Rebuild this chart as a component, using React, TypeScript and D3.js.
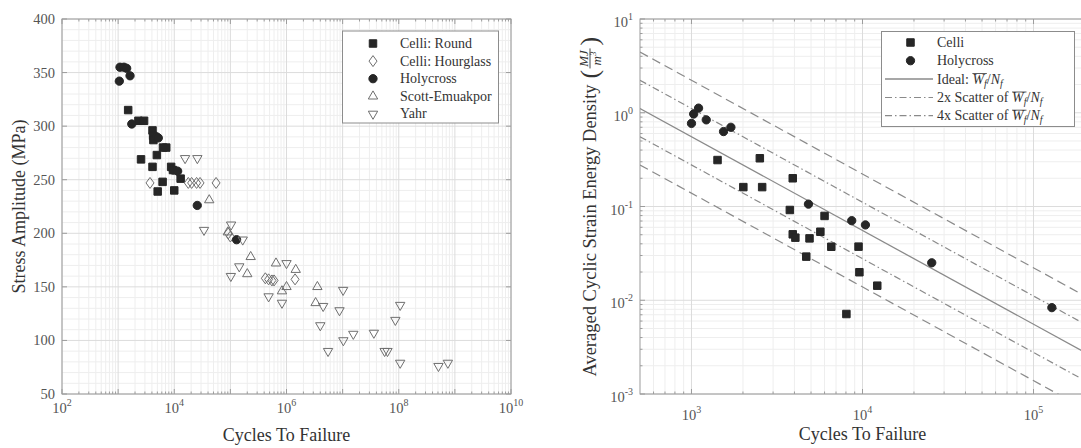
import React, { useEffect, useRef } from 'react';
import * as d3 from 'd3';

// left panel: cycles to failure vs stress amplitude (MPa)
const celliRound: [number, number][] = [
  [1510, 315], [2300, 305], [2900, 305], [4100, 296], [4200, 291], [4250, 287],
  [6300, 280], [7200, 280], [4900, 273], [2560, 269], [4100, 262], [8800, 262],
  [9500, 259], [13000, 251], [6200, 248], [5070, 239], [10000, 240],
];
const celliHourglass: [number, number][] = [
  [3700, 247], [17800, 247], [20400, 247], [25000, 247], [28800, 247], [55600, 247],
  [92000, 200], [100000, 197], [420000, 158], [480000, 157], [550000, 156],
  [600000, 156], [1420000, 157],
];
const holycrossS: [number, number][] = [
  [1080, 355], [1270, 355], [1420, 354], [1630, 347], [1050, 342], [1750, 302],
  [4870, 290], [5200, 289], [9600, 259], [11500, 258], [25700, 226], [129000, 194],
];
const scottEmuakpor: [number, number][] = [
  [42000, 231], [90000, 201], [230000, 178], [200000, 162], [650000, 172],
  [1460000, 166], [1000000, 150], [830000, 146], [3550000, 150], [3300000, 135],
];
const yahr: [number, number][] = [
  [15600, 270], [25800, 270], [33900, 203], [103000, 208], [166000, 194], [144000, 169],
  [102000, 160], [1000000, 172], [480000, 141], [830000, 135], [10200000, 147],
  [4500000, 132], [8800000, 128], [4000000, 114], [106000000, 133], [87000000, 119],
  [15500000, 106], [36000000, 107], [10300000, 100], [5500000, 90], [56000000, 90],
  [63000000, 90], [106000000, 79], [510000000, 76], [750000000, 79],
];

// right panel: cycles to failure vs averaged cyclic strain energy density (MJ/m^3)
const celliW: [number, number][] = [
  [1420, 0.313], [2510, 0.327], [2010, 0.161], [2590, 0.161], [3910, 0.2], [3760, 0.0918],
  [6000, 0.0793], [3910, 0.0505], [4050, 0.0465], [4900, 0.0457], [5670, 0.0538],
  [6570, 0.0372], [4690, 0.0292], [8050, 0.00713], [9480, 0.0373], [9590, 0.0199],
  [12200, 0.0143],
];
const holycrossW: [number, number][] = [
  [1000, 0.77], [1030, 0.97], [1100, 1.12], [1220, 0.84], [1540, 0.63], [1700, 0.7],
  [4830, 0.106], [8650, 0.0706], [10400, 0.0636], [25400, 0.0251], [128000, 0.00834],
];
const idealWf = 555;
const scatterFactors = [2, 4];

const leftYTicks = [50, 100, 150, 200, 250, 300, 350, 400];
const leftXExps = [2, 3, 4, 5, 6, 7, 8, 9, 10];
const rightXExps = [3, 4, 5];
const rightYExps = [-3, -2, -1, 0, 1];
const leftLegend = ['Celli: Round', 'Celli: Hourglass', 'Holycross', 'Scott-Emuakpor', 'Yahr'];

const FONT = "'Liberation Serif', 'Times New Roman', Times, 'DejaVu Serif', serif";
const GRID = '#dcdcdc';
const GRID_MINOR = '#eeeeee';
const AXIS = '#9c9c9c';
const TXT = '#555';
const DARK = '#262626';
const OPEN = '#6e6e6e';
const LINE = '#8a8a8a';

const shapes: Record<string, string> = {
  square: d3.symbol(d3.symbolSquare, 56)() as string,
  circle: d3.symbol(d3.symbolCircle, 54)() as string,
  up: d3.symbol(d3.symbolTriangle, 38)() as string,
  diamond: 'M0,-5.5L4,0L0,5.5L-4,0Z',
};

function marker(g: any, kind: string, x: number, y: number) {
  const filled = kind === 'square' || kind === 'circle';
  return g.append('path')
    .attr('d', shapes[kind === 'down' ? 'up' : kind])
    .attr('transform', `translate(${x},${y})${kind === 'down' ? ' rotate(180)' : ''}`)
    .attr('fill', filled ? DARK : 'none')
    .attr('stroke', filled ? DARK : OPEN)
    .attr('stroke-width', 1);
}

function pow10(g: any, x: number, y: number, e: number, anchor: string) {
  const t = g.append('text')
    .attr('x', x).attr('y', y)
    .attr('text-anchor', anchor)
    .style('font-size', '14.5px')
    .attr('fill', TXT);
  t.append('tspan').text('10');
  t.append('tspan').attr('dy', -7).style('font-size', '10px').text(e);
}

// text like "prefix W̄f/Nf" with overline drawn over W_f
function ratioText(g: any, x: number, y: number, prefix: string) {
  const t = g.append('text').attr('x', x).attr('y', y).style('font-size', '14px').attr('fill', '#333');
  t.append('tspan').text(prefix);
  t.append('tspan').style('font-style', 'italic').text('W');
  t.append('tspan').style('font-style', 'italic').style('font-size', '10px').attr('dy', 3).text('f');
  t.append('tspan').attr('dy', -3).text('/');
  t.append('tspan').style('font-style', 'italic').text('N');
  t.append('tspan').style('font-style', 'italic').style('font-size', '10px').attr('dy', 3).text('f');
  const node = t.node() as SVGTextElement;
  const a = node.getExtentOfChar(prefix.length);
  const b = node.getExtentOfChar(prefix.length + 1);
  g.append('line')
    .attr('x1', a.x).attr('x2', b.x + b.width)
    .attr('y1', a.y + 2).attr('y2', a.y + 2)
    .attr('stroke', '#333').attr('stroke-width', 0.8);
}

function drawLeft(svg: any) {
  const x = d3.scaleLog().domain([1e2, 1e10]).range([62, 511]);
  const y = d3.scaleLinear().domain([50, 400]).range([394, 19]);
  const [x0, x1] = x.range();
  const [y0, y1] = y.range();
  const g = svg.append('g');

  // grid
  const minorX: number[] = [];
  leftXExps.slice(0, -1).forEach(e => { for (let k = 2; k < 10; k++) minorX.push(k * 10 ** e); });
  g.selectAll('.mx').data(minorX).join('line')
    .attr('x1', (d: number) => x(d)).attr('x2', (d: number) => x(d)).attr('y1', y0).attr('y2', y1)
    .attr('stroke', GRID_MINOR);
  g.selectAll('.my').data(d3.range(60, 400, 10).filter(v => v % 50 !== 0)).join('line')
    .attr('x1', x0).attr('x2', x1).attr('y1', (d: number) => y(d)).attr('y2', (d: number) => y(d))
    .attr('stroke', GRID_MINOR);
  g.selectAll('.gx').data(leftXExps).join('line')
    .attr('x1', (e: number) => x(10 ** e)).attr('x2', (e: number) => x(10 ** e)).attr('y1', y0).attr('y2', y1)
    .attr('stroke', GRID);
  g.selectAll('.gy').data(leftYTicks).join('line')
    .attr('x1', x0).attr('x2', x1).attr('y1', (d: number) => y(d)).attr('y2', (d: number) => y(d))
    .attr('stroke', GRID);

  // ticks (inward, all four sides)
  const tk = g.append('g').attr('stroke', AXIS);
  leftXExps.forEach(e => {
    const px = x(10 ** e);
    tk.append('line').attr('x1', px).attr('x2', px).attr('y1', y0).attr('y2', y0 - 5);
    tk.append('line').attr('x1', px).attr('x2', px).attr('y1', y1).attr('y2', y1 + 5);
  });
  minorX.forEach(v => {
    tk.append('line').attr('x1', x(v)).attr('x2', x(v)).attr('y1', y0).attr('y2', y0 - 2.5);
    tk.append('line').attr('x1', x(v)).attr('x2', x(v)).attr('y1', y1).attr('y2', y1 + 2.5);
  });
  leftYTicks.forEach(v => {
    tk.append('line').attr('x1', x0).attr('x2', x0 + 5).attr('y1', y(v)).attr('y2', y(v));
    tk.append('line').attr('x1', x1).attr('x2', x1 - 5).attr('y1', y(v)).attr('y2', y(v));
  });
  g.append('rect').attr('x', x0).attr('y', y1).attr('width', x1 - x0).attr('height', y0 - y1)
    .attr('fill', 'none').attr('stroke', AXIS);

  // tick labels
  leftXExps.filter(e => e % 2 === 0).forEach(e => pow10(g, x(10 ** e), 413, e, 'middle'));
  g.selectAll('.yl').data(leftYTicks).join('text')
    .attr('x', x0 - 7).attr('y', (d: number) => y(d) + 5)
    .attr('text-anchor', 'end').style('font-size', '14.5px').attr('fill', TXT)
    .text((d: number) => d);

  // data
  const series: [[number, number][], string][] = [
    [celliRound, 'square'], [celliHourglass, 'diamond'], [holycrossS, 'circle'],
    [scottEmuakpor, 'up'], [yahr, 'down'],
  ];
  series.forEach(([data, kind]) => data.forEach(([n, s]) => marker(g, kind, x(n), y(s))));

  // legend
  const lg = g.append('g');
  lg.append('rect').attr('x', 342.5).attr('y', 31).attr('width', 156).attr('height', 92)
    .attr('fill', '#fff').attr('stroke', '#8c8c8c');
  leftLegend.forEach((name, i) => {
    const ly = 43.5 + i * 17.6;
    marker(lg, series[i][1], 373, ly);
    lg.append('text').attr('x', 400).attr('y', ly + 4.5).style('font-size', '14px').attr('fill', '#333').text(name);
  });

  // axis titles
  g.append('text').attr('x', (x0 + x1) / 2).attr('y', 441).attr('text-anchor', 'middle')
    .style('font-size', '18px').attr('fill', '#333').text('Cycles To Failure');
  g.append('text').attr('transform', `translate(25,${(y0 + y1) / 2}) rotate(-90)`)
    .attr('text-anchor', 'middle').style('font-size', '18px').attr('fill', '#333')
    .text('Stress Amplitude (MPa)');
}

function drawRight(svg: any) {
  const x = d3.scaleLog().domain([500, 2e5]).range([640, 1085]);
  const y = d3.scaleLog().domain([1e-3, 10]).range([394, 19]);
  const [x0, x1] = x.range();
  const [y0, y1] = y.range();
  const g = svg.append('g');

  const minorX: number[] = [];
  [2, 3, 4, 5].forEach(e => { for (let k = 2; k < 10; k++) { const v = k * 10 ** e; if (v > 500 && v < 2e5) minorX.push(v); } });
  const minorY: number[] = [];
  [-3, -2, -1, 0].forEach(e => { for (let k = 2; k < 10; k++) minorY.push(k * 10 ** e); });

  g.selectAll('.mx').data(minorX).join('line')
    .attr('x1', (d: number) => x(d)).attr('x2', (d: number) => x(d)).attr('y1', y0).attr('y2', y1)
    .attr('stroke', GRID_MINOR);
  g.selectAll('.my').data(minorY).join('line')
    .attr('x1', x0).attr('x2', x1).attr('y1', (d: number) => y(d)).attr('y2', (d: number) => y(d))
    .attr('stroke', GRID_MINOR);
  g.selectAll('.gx').data(rightXExps).join('line')
    .attr('x1', (e: number) => x(10 ** e)).attr('x2', (e: number) => x(10 ** e)).attr('y1', y0).attr('y2', y1)
    .attr('stroke', GRID);
  g.selectAll('.gy').data(rightYExps).join('line')
    .attr('x1', x0).attr('x2', x1).attr('y1', (e: number) => y(10 ** e)).attr('y2', (e: number) => y(10 ** e))
    .attr('stroke', GRID);

  const tk = g.append('g').attr('stroke', AXIS);
  rightXExps.forEach(e => {
    const px = x(10 ** e);
    tk.append('line').attr('x1', px).attr('x2', px).attr('y1', y0).attr('y2', y0 - 5);
    tk.append('line').attr('x1', px).attr('x2', px).attr('y1', y1).attr('y2', y1 + 5);
  });
  minorX.forEach(v => {
    tk.append('line').attr('x1', x(v)).attr('x2', x(v)).attr('y1', y0).attr('y2', y0 - 2.5);
    tk.append('line').attr('x1', x(v)).attr('x2', x(v)).attr('y1', y1).attr('y2', y1 + 2.5);
  });
  rightYExps.forEach(e => tk.append('line').attr('x1', x0).attr('x2', x0 + 5).attr('y1', y(10 ** e)).attr('y2', y(10 ** e)));
  minorY.forEach(v => tk.append('line').attr('x1', x0).attr('x2', x0 + 2.5).attr('y1', y(v)).attr('y2', y(v)));
  g.append('rect').attr('x', x0).attr('y', y1).attr('width', x1 - x0).attr('height', y0 - y1)
    .attr('fill', 'none').attr('stroke', AXIS);

  rightXExps.forEach(e => pow10(g, x(10 ** e), 420, e, 'middle'));
  rightYExps.forEach(e => pow10(g, x0 - 7, y(10 ** e) + 8, e, 'end'));

  // ideal and scatter band lines
  svg.append('clipPath').attr('id', 'rclip').append('rect')
    .attr('x', x0).attr('y', y1).attr('width', x1 - x0).attr('height', y0 - y1);
  const lines = g.append('g').attr('clip-path', 'url(#rclip)').attr('fill', 'none').attr('stroke', LINE);
  const xs = x.domain();
  const path = (f: number) => d3.line<number>().x(n => x(n)).y(n => y((idealWf * f) / n))(xs);
  lines.append('path').attr('d', path(1)).attr('stroke-width', 1.3);
  scatterFactors.forEach(s => {
    const dash = s === 2 ? '7,3,1.5,3' : '9,5';
    [s, 1 / s].forEach(f => lines.append('path').attr('d', path(f)).attr('stroke-width', 1.2).attr('stroke-dasharray', dash));
  });

  const pts = g.append('g').attr('clip-path', 'url(#rclip)');
  celliW.forEach(([n, w]) => marker(pts, 'square', x(n), y(w)));
  holycrossW.forEach(([n, w]) => marker(pts, 'circle', x(n), y(w)));

  // legend
  const lg = g.append('g');
  lg.append('rect').attr('x', 881.5).attr('y', 31.5).attr('width', 193).attr('height', 95)
    .attr('fill', '#fff').attr('stroke', '#8c8c8c');
  const rows = [42.5, 60.7, 79, 97.5, 115.7];
  marker(lg, 'square', 910.5, rows[0]);
  marker(lg, 'circle', 910.5, rows[1]);
  lg.append('text').attr('x', 937).attr('y', rows[0] + 4.5).style('font-size', '14px').attr('fill', '#333').text('Celli');
  lg.append('text').attr('x', 937).attr('y', rows[1] + 4.5).style('font-size', '14px').attr('fill', '#333').text('Holycross');
  const legLine = (yy: number, dash: string | null, w: number) => {
    const l = lg.append('line').attr('x1', 885).attr('x2', 933).attr('y1', yy).attr('y2', yy)
      .attr('stroke', LINE).attr('stroke-width', w);
    if (dash) l.attr('stroke-dasharray', dash);
  };
  legLine(rows[2], null, 1.3);
  legLine(rows[3], '7,3,1.5,3', 1.2);
  legLine(rows[4], '7,3,1.5,3', 1.2);
  ratioText(lg, 937, rows[2] + 4.5, 'Ideal: ');
  scatterFactors.forEach((s, i) => ratioText(lg, 937, rows[3 + i] + 4.5, `${s}x Scatter of `));

  // axis titles
  g.append('text').attr('x', (x0 + x1) / 2).attr('y', 440).attr('text-anchor', 'middle')
    .style('font-size', '18px').attr('fill', '#333').text('Cycles To Failure');

  const yl = g.append('g');
  const main = yl.append('text').attr('x', 0).attr('y', 0).style('font-size', '18.5px').attr('fill', '#333')
    .text('Averaged Cyclic Strain Energy Density');
  const L = (main.node() as SVGTextElement).getComputedTextLength();
  const px = L + 6;
  yl.append('text').attr('x', px).attr('y', 2).style('font-size', '26px').attr('fill', '#333').text('(');
  const fx = px + 20;
  yl.append('text').attr('x', fx).attr('y', -8.5).attr('text-anchor', 'middle').style('font-size', '13px')
    .style('font-style', 'italic').attr('fill', '#333').text('MJ');
  yl.append('line').attr('x1', fx - 10).attr('x2', fx + 10).attr('y1', -6).attr('y2', -6)
    .attr('stroke', '#333').attr('stroke-width', 0.9);
  const den = yl.append('text').attr('x', fx).attr('y', 5).attr('text-anchor', 'middle').style('font-size', '13px')
    .style('font-style', 'italic').attr('fill', '#333');
  den.append('tspan').text('m');
  den.append('tspan').attr('dy', -5).style('font-size', '9px').text('3');
  yl.append('text').attr('x', fx + 13).attr('y', 2).style('font-size', '26px').attr('fill', '#333').text(')');
  const total = fx + 22;
  yl.attr('transform', `translate(596,${(y0 + y1) / 2}) rotate(-90) translate(${-total / 2},0)`);
}

export default function App() {
  const ref = useRef<SVGSVGElement>(null);

  useEffect(() => {
    const svg = d3.select(ref.current);
    svg.selectAll('*').remove();
    svg.style('font-family', FONT);
    drawLeft(svg);
    drawRight(svg);
  }, []);

  return (
    <svg ref={ref} width={1081} height={448}
      style={{ position: 'absolute', left: 0, top: 0, background: '#fff', display: 'block', fontFamily: FONT }} />
  );
}
